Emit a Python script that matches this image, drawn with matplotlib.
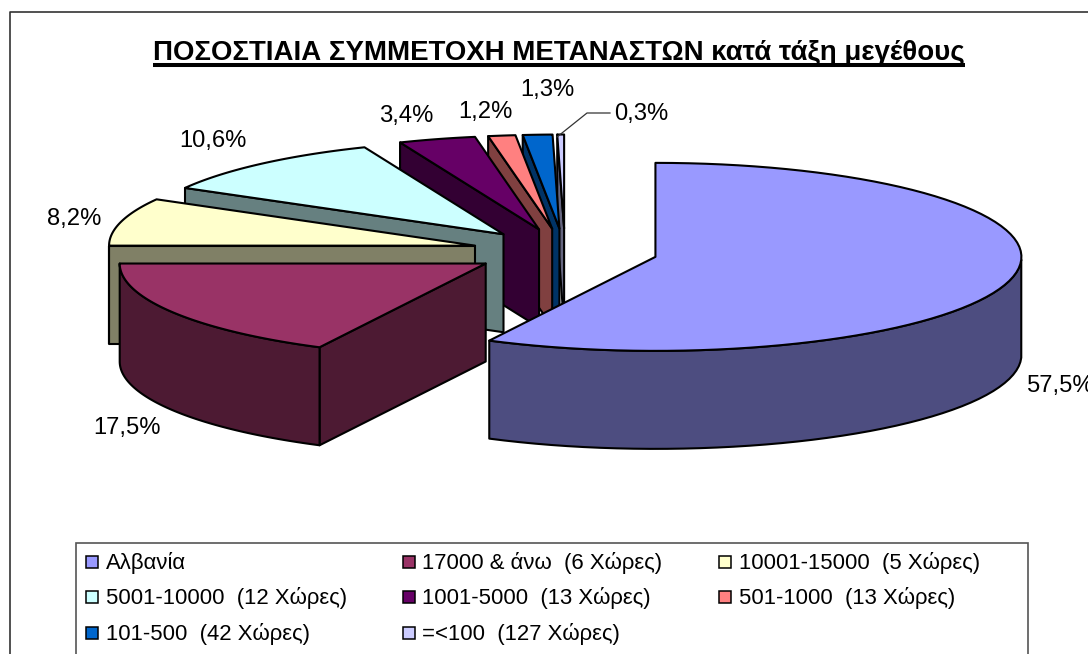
import numpy as np
import matplotlib
matplotlib.use("Agg")
import matplotlib.pyplot as plt
from matplotlib.patches import Polygon, Rectangle

plt.rcParams["font.family"] = ["Liberation Sans", "DejaVu Sans"]

# chart data
categories = ["Αλβανία", "17000 & άνω  (6 Χώρες)", "10001-15000  (5 Χώρες)",
              "5001-10000  (12 Χώρες)", "1001-5000  (13 Χώρες)", "501-1000  (13 Χώρες)",
              "101-500  (42 Χώρες)", "=<100  (127 Χώρες)"]
shares = [57.5, 17.5, 8.2, 10.6, 3.4, 1.2, 1.3, 0.3]
share_labels = ["57,5%", "17,5%", "8,2%", "10,6%", "3,4%", "1,2%", "1,3%", "0,3%"]
title = "ΠΟΣΟΣΤΙΑΙΑ ΣΥΜΜΕΤΟΧΗ ΜΕΤΑΝΑΣΤΩΝ κατά τάξη μεγέθους"

top_colors = ["#9999FF", "#993366", "#FFFFCC", "#CCFFFF", "#660066", "#FF8080", "#0066CC", "#CCCCFF"]
side_colors = ["#4D4D80", "#4D1A33", "#808066", "#668080", "#330033", "#804040", "#003366", "#666680"]

# pie geometry in pixels
cx, cy = 565, 251.5
rx, ry = 366, 94
ex, ey = 93, 23
depth = 98


def arc(x0, y0, t1, t2, n=80):
    t = np.radians(np.linspace(t1, t2, n))
    return x0 + rx * np.cos(t), y0 - ry * np.sin(t)


def draw_slice(ax, t1, t2, top, side, z):
    mid = np.radians((t1 + t2) / 2)
    x0 = cx + ex * np.cos(mid)
    y0 = cy - ey * np.sin(mid)
    xs, ys = arc(x0, y0, t1, t2)
    style = dict(edgecolor="black", linewidth=1.5, joinstyle="round", zorder=z)

    # walls that face the viewer
    if np.cos(np.radians(t1)) < -1e-6:
        ax.add_patch(Polygon([(x0, y0), (xs[0], ys[0]), (xs[0], ys[0] + depth), (x0, y0 + depth)],
                             facecolor=side, **style))
    if np.cos(np.radians(t2)) > 1e-6:
        ax.add_patch(Polygon([(x0, y0), (xs[-1], ys[-1]), (xs[-1], ys[-1] + depth), (x0, y0 + depth)],
                             facecolor=side, **style))
    front = np.sin(np.radians(np.linspace(t1, t2, 80))) <= 0
    if front.any():
        fx, fy = xs[front], ys[front]
        wall = np.r_[np.c_[fx, fy], np.c_[fx[::-1], fy[::-1] + depth]]
        ax.add_patch(Polygon(wall, facecolor=side, **style))
    ax.add_patch(Polygon(np.r_[[(x0, y0)], np.c_[xs, ys]], facecolor=top, **style))


fig = plt.figure(figsize=(10.88, 6.54), dpi=100)
ax = fig.add_axes([0, 0, 1, 1])
ax.set_xlim(0, 1088)
ax.set_ylim(654, 0)
ax.axis("off")

# chart frame, only left and top fall inside the picture
ax.plot([9.5, 9.5, 1088], [654, 12, 12], color="#333333", lw=1.2, zorder=1)

ax.text(559, 53, title, fontsize=19.9, fontweight="bold", ha="center", va="center", zorder=9)
ax.plot([153, 965], [65, 65], color="black", lw=2.9, solid_capstyle="butt", zorder=9)

# slices run clockwise from the top, back ones are painted first
ends = 90 - np.cumsum(shares) * 3.6
starts = np.r_[90, ends[:-1]]
for i in [7, 6, 5, 4, 3, 2, 1, 0]:
    draw_slice(ax, starts[i], ends[i], top_colors[i], side_colors[i], 10 + 8 - i)

label_pos = [(1061, 386), (127, 428), (74, 219), (213, 141), (406, 116), (485, 112), (547, 90), (641, 114)]
for s, (lx, ly) in zip(share_labels, label_pos):
    ax.text(lx, ly, s, fontsize=17.1, ha="center", va="center", zorder=30)
ax.plot([557, 587, 610], [137, 113, 113], color="#333333", lw=0.9, zorder=30)

# legend box
ax.add_patch(Rectangle((76, 543), 951.5, 120, facecolor="white", edgecolor="#555555", lw=1.2, zorder=5))
col_x = [85.5, 402.5, 719]
row_y = [562, 597, 633]
for i, name in enumerate(categories):
    x = col_x[i % 3]
    y = row_y[i // 3]
    ax.add_patch(Rectangle((x, y - 6), 12, 12, facecolor=top_colors[i], edgecolor="black", lw=1.1, zorder=6))
    ax.text(x + 20, y + 1, name, fontsize=15.9, ha="left", va="center", zorder=6)

fig.savefig("out.png", dpi=100)
